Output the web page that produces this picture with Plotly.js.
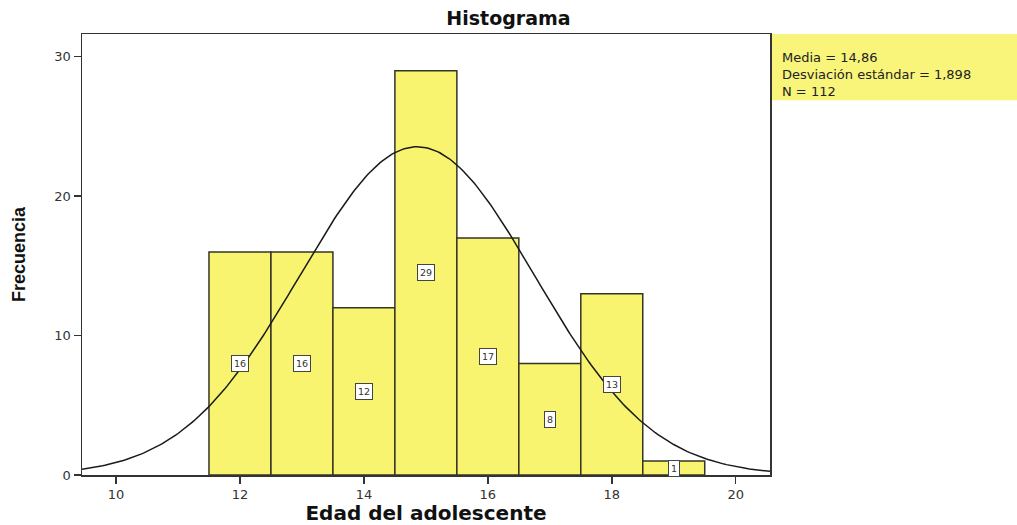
<!DOCTYPE html>
<html><head><meta charset="utf-8">
<script src="https://cdn.plot.ly/plotly-3.0.1.min.js"></script>
<style>html,body{margin:0;padding:0;background:#fff}</style>
</head><body>
<div id="chart" style="width:1017px;height:525px"></div>
<script>
// Data
const ages = [12, 13, 14, 15, 16, 17, 18, 19];
const counts = [16, 16, 12, 29, 17, 8, 13, 1];
const meanAge = 14.86;
const sdAge = 1.898;
const nTotal = 112;
const xTicks = [10, 12, 14, 16, 18, 20];
const yTicks = [0, 10, 20, 30];
const statLines = [
  'Media = ' + meanAge.toFixed(2).replace('.', ','),
  'Desviación estándar = ' + sdAge.toFixed(3).replace('.', ','),
  'N = ' + nTotal
];

// Fitted normal curve from the stated statistics (bin width 1)
const xRange = [9.451, 20.553];
const curveX = [], curveY = [];
for (let i = 0; i <= 300; i++) {
  const x = xRange[0] + (xRange[1] - xRange[0]) * i / 300;
  curveX.push(x);
  curveY.push(nTotal / (sdAge * Math.sqrt(2 * Math.PI)) * Math.exp(-0.5 * Math.pow((x - meanAge) / sdAge, 2)));
}

const bars = {
  type: 'bar', x: ages, y: counts, width: 1,
  marker: {color: '#F8F46F', line: {color: '#353525', width: 1.5}},
  hoverinfo: 'x+y', showlegend: false
};
const curve = {
  type: 'scatter', mode: 'lines', x: curveX, y: curveY,
  line: {color: '#1a1a1a', width: 1.5}, hoverinfo: 'skip', showlegend: false
};

const annotations = ages.map((a, i) => ({
  x: a, y: counts[i] / 2, xref: 'x', yref: 'y', text: String(counts[i]),
  showarrow: false, bgcolor: '#ffffff', bordercolor: '#444', borderwidth: 1, borderpad: 2,
  font: {family: 'DejaVu Sans, Arial', size: 9.5, color: '#333'}
}));
annotations.push({
  xref: 'paper', yref: 'paper', x: 1.015, y: (475 - 75) / 441, xanchor: 'left', yanchor: 'middle',
  align: 'left', showarrow: false, text: statLines.join('<br>'),
  font: {family: 'DejaVu Sans, Arial', size: 13, color: '#222'}
});

const layout = {
  width: 1017, height: 525,
  margin: {l: 82, r: 247, t: 34, b: 50},
  paper_bgcolor: '#ffffff', plot_bgcolor: '#ffffff',
  bargap: 0,
  title: {text: '<b>Histograma</b>', x: 0.5, xref: 'container', xanchor: 'center', y: 0.965, yanchor: 'middle',
          font: {family: 'DejaVu Sans, Arial', size: 19, color: '#111'}},
  xaxis: {
    range: xRange, tickvals: xTicks, ticks: 'outside', ticklen: 7, tickwidth: 1.5, tickcolor: '#333',
    showline: true, linecolor: '#333', linewidth: 1.5, mirror: true, showgrid: false, zeroline: false,
    tickfont: {family: 'DejaVu Sans, Arial', size: 13, color: '#333'},
    title: {text: '<b>Edad del adolescente</b>', standoff: 8,
            font: {family: 'DejaVu Sans, Arial', size: 20, color: '#111'}}
  },
  yaxis: {
    range: [0, 31.63], tickvals: yTicks, ticks: 'outside', ticklen: 7, tickwidth: 1.5, tickcolor: '#333',
    showline: true, linecolor: '#333', linewidth: 1.5, mirror: true, showgrid: false, zeroline: false,
    tickfont: {family: 'DejaVu Sans, Arial', size: 13, color: '#333'},
    title: {text: '<b>Frecuencia</b>', standoff: 24,
            font: {family: 'Liberation Sans Narrow, Liberation Sans, Arial', size: 18, color: '#111'}}
  },
  shapes: [{
    type: 'rect', xref: 'paper', yref: 'paper', x0: 1.002, x1: 1.36, y0: 0.85, y1: 1.0,
    fillcolor: '#F8F57A', line: {width: 0}, layer: 'below'
  }],
  annotations: annotations
};

Plotly.newPlot('chart', [bars, curve], layout, {displayModeBar: false, staticPlot: true});
</script>
</body></html>
